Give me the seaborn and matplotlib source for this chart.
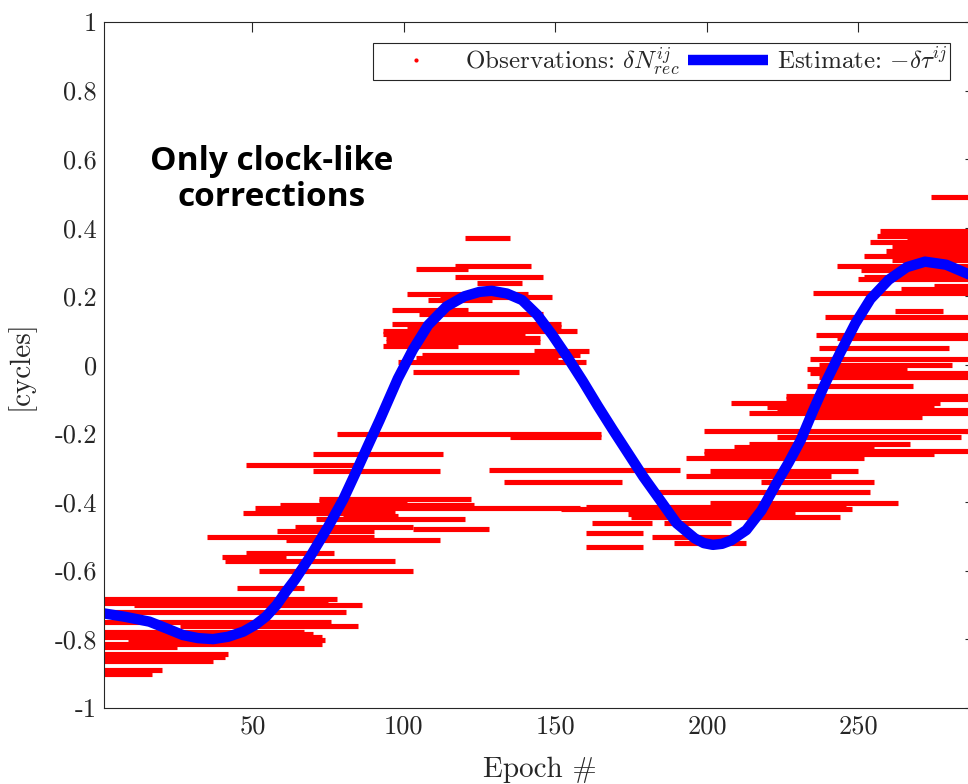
import numpy as np
import pandas as pd
import seaborn as sns
import matplotlib
matplotlib.use("Agg")
import matplotlib.pyplot as plt
from matplotlib.lines import Line2D

# red observation segments: value, first epoch, last epoch
seg_val = [
    -0.652, -0.684, -0.694, -0.701, -0.722, -0.751, -0.761, -0.778, -0.785, -0.795,
    -0.802, -0.814, -0.822, -0.843, -0.853, -0.863, -0.890, -0.902,
    -0.202, -0.209, -0.261, -0.292, -0.306, -0.311, -0.341, -0.391, -0.397, -0.409,
    -0.418, -0.431, -0.441, -0.451, -0.472, -0.480, -0.486, -0.501, -0.511, -0.550,
    -0.561, -0.571, -0.602,
    0.369, 0.289, 0.279, 0.257, 0.238, 0.208, 0.199, 0.188, 0.159, 0.148,
    0.118, 0.109, 0.099, 0.089, 0.078, 0.068, 0.056, 0.039, 0.029, 0.019,
    0.009, -0.021,
    -0.061, -0.090, -0.100, -0.112, -0.122, -0.132, -0.141, -0.151, -0.192, -0.211,
    -0.231, -0.241, -0.251, -0.260, -0.272, -0.309, -0.323, -0.341, -0.372, -0.402,
    -0.414, -0.421, -0.436, -0.443, -0.462, -0.462, -0.491, -0.501, -0.521, -0.531,
    0.491, 0.391, 0.376, 0.365, 0.358, 0.345, 0.332, 0.318, 0.305, 0.288,
    0.277, 0.267, 0.257, 0.250, 0.230, 0.220, 0.209, 0.158, 0.139, 0.087,
    0.077, 0.048, 0.017, 0.000, -0.013, -0.025, -0.035,
]
seg_start = [
    45, 1, 1, 11, 1, 1, 26, 1, 15, 1,
    9, 1, 1, 1, 1, 1, 1, 1,
    78, 135, 70, 48, 128, 70, 133, 72, 72, 59,
    51, 47, 80, 71, 64, 103, 58, 35, 61, 48,
    40, 41, 52,
    120, 117, 104, 117, 124, 101, 112, 108, 96, 105,
    96, 101, 93, 93, 94, 94, 93, 143, 106, 104,
    98, 103,
    233, 226, 226, 208, 220, 223, 214, 233, 199, 223,
    214, 209, 199, 199, 193, 201, 193, 218, 183, 201,
    160, 152, 174, 175, 162, 186, 160, 182, 189, 160,
    274, 257, 256, 266, 254, 261, 259, 252, 261, 243,
    251, 262, 252, 250, 275, 264, 235, 262, 239, 236,
    243, 237, 234, 237, 233, 234, 237,
]
seg_end = [
    67, 78, 75, 86, 81, 76, 85, 67, 70, 73,
    74, 73, 25, 42, 41, 37, 20, 17,
    165, 165, 113, 84, 191, 112, 172, 122, 101, 123,
    158, 97, 98, 120, 103, 128, 90, 90, 112, 77,
    61, 97, 103,
    135, 142, 121, 146, 139, 141, 149, 129, 121, 146,
    152, 152, 157, 140, 145, 145, 118, 161, 158, 151,
    160, 138,
    268, 289, 289, 277, 275, 289, 289, 271, 289, 284,
    267, 255, 289, 275, 252, 250, 241, 255, 254, 263,
    246, 248, 229, 244, 182, 208, 179, 209, 213, 179,
    289, 289, 289, 289, 289, 289, 289, 289, 289, 289,
    289, 289, 289, 289, 289, 289, 289, 278, 289, 289,
    289, 280, 289, 281, 266, 289, 289,
]

# blue estimate curve
est_epoch = [1, 8, 16, 22, 27, 32, 37, 42, 47, 51, 54.5, 58, 61, 64, 69, 75, 80, 84, 88, 92,
             98, 103, 108, 114, 120, 125, 129, 134, 139, 144, 149, 154, 159, 164, 169, 174,
             179, 185, 190, 196, 199, 202, 205, 208, 213, 218, 223, 227, 231, 235, 239, 244,
             249, 254, 260, 266, 272, 279, 287]
est_val = [-0.725, -0.735, -0.749, -0.770, -0.788, -0.797, -0.800, -0.793, -0.778, -0.758, -0.734,
           -0.700, -0.662, -0.627, -0.560, -0.472, -0.392, -0.316, -0.238, -0.161,
           -0.040, 0.045, 0.116, 0.170, 0.200, 0.213, 0.216, 0.208, 0.189, 0.146,
           0.087, 0.022, -0.047, -0.120, -0.190, -0.258, -0.326, -0.400, -0.462, -0.506,
           -0.520, -0.525, -0.522, -0.512, -0.482, -0.425, -0.345, -0.285, -0.219, -0.135,
           -0.055, 0.035, 0.121, 0.192, 0.248, 0.285, 0.301, 0.292, 0.262]

sns.set_style("white")
plt.rcParams['font.family'] = ['cmr10', 'DejaVu Serif']
plt.rcParams['mathtext.fontset'] = 'cm'
plt.rcParams['axes.unicode_minus'] = False

rows = []
for i, (v, a, b) in enumerate(zip(seg_val, seg_start, seg_end)):
    rows.append((i, a, v))
    rows.append((i, b, v))
obs = pd.DataFrame(rows, columns=['seg', 'epoch', 'value'])
est = pd.DataFrame({'epoch': est_epoch, 'value': est_val})

fig = plt.figure(figsize=(9.68, 7.84), dpi=100)
ax = fig.add_axes([104 / 968, 1 - 707.7 / 784, (975 - 104) / 968, (707.7 - 22) / 784])

sns.lineplot(data=obs, x='epoch', y='value', units='seg', estimator=None,
             color='#ff0000', lw=3.7, ax=ax, legend=False, sort=False)
for ln in ax.lines:
    ln.set_solid_capstyle('butt')
sns.lineplot(data=est, x='epoch', y='value', color='#0000ff', lw=7.5, ax=ax,
             legend=False, sort=False)
ax.lines[-1].set_solid_joinstyle('round')

ax.set_xlim(1, 288.5)
ax.set_ylim(-1, 1)
ax.set_xticks([50, 100, 150, 200, 250])
ax.set_xticklabels(['50', '100', '150', '200', '250'])
yt = [-1, -0.8, -0.6, -0.4, -0.2, 0, 0.2, 0.4, 0.6, 0.8, 1]
ax.set_yticks(yt)
ax.set_yticklabels(['-1', '-0.8', '-0.6', '-0.4', '-0.2', '0', '0.2', '0.4', '0.6', '0.8', '1'])
ax.tick_params(direction='in', length=7, width=0.8, colors='#262626', labelsize=19,
               top=True, right=True, pad=5)
for s in ax.spines.values():
    s.set_visible(True)
    s.set_color('#262626')
    s.set_linewidth(0.8)

ax.set_xlabel('Epoch #', fontsize=21, color='#262626')
ax.set_ylabel('[cycles]', fontsize=21, color='#262626')
ax.xaxis.label.set_va('center')
ax.yaxis.label.set_va('center')
ax.xaxis.set_label_coords(0.5, (707.7 - 770) / 685.7)
ax.yaxis.set_label_coords((20 - 104) / 871, 0.5)

handles = [
    Line2D([], [], ls='none', marker='.', color='#ff0000', markersize=4),
    Line2D([], [], color='#0000ff', lw=7.5, solid_capstyle='butt'),
]
labels = [r'Observations: $\delta N^{ij}_{rec}$', r'Estimate: $-\delta\tau^{ij}$']
leg = ax.legend(handles, labels, ncol=2, loc='upper right', fontsize=18,
                bbox_to_anchor=(950 / 968, 1 - 43 / 784), bbox_transform=fig.transFigure,
                borderaxespad=0, frameon=True, fancybox=False, framealpha=1,
                handlelength=3.2, handletextpad=0.35, columnspacing=0.35, borderpad=0.1)
leg.get_frame().set_edgecolor('#262626')
leg.get_frame().set_linewidth(0.8)

fig.text(272 / 968, 1 - 179 / 784, 'Only clock-like\ncorrections', ha='center', va='center',
         fontsize=24, fontweight='bold', family=['Open Sans', 'DejaVu Sans'],
         linespacing=1.12, color='black')

fig.savefig('out.png', dpi=100)
